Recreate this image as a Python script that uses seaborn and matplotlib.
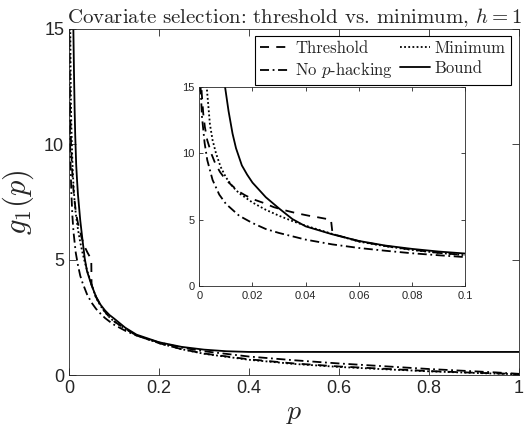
import matplotlib
matplotlib.use("Agg")
import matplotlib.pyplot as plt
import seaborn as sns
import numpy as np

# ---------------- data ----------------
p_threshold = [0.0007, 0.0009, 0.0015, 0.0021, 0.003, 0.0047, 0.006, 0.0078, 0.01,
               0.0122, 0.0147, 0.0172, 0.0202, 0.024, 0.028, 0.032, 0.0366, 0.041,
               0.0447, 0.0495, 0.0501, 0.06, 0.07, 0.08, 0.09, 0.1, 0.125, 0.15,
               0.2, 0.25, 0.3, 0.4, 0.5, 0.6, 0.7, 0.8, 0.9, 1.0]
g_threshold = [16.0, 14.6, 13.0, 12.0, 11.0, 9.9, 9.25, 8.6, 8.0,
               7.6, 7.15, 6.85, 6.55, 6.28, 5.95, 5.72, 5.49, 5.31,
               5.18, 5.0, 3.92, 3.38, 3.02, 2.74, 2.5, 2.33, 2.0, 1.72,
               1.38, 1.12, 0.93, 0.68, 0.5, 0.37, 0.27, 0.17, 0.1, 0.04]

p_minimum = [0.002, 0.0028, 0.004, 0.005, 0.0063, 0.008, 0.01, 0.0125, 0.015, 0.02,
             0.025, 0.03, 0.035, 0.04, 0.05, 0.06, 0.07, 0.08, 0.09, 0.1, 0.125,
             0.15, 0.2, 0.25, 0.3, 0.4, 0.5, 0.6, 0.7, 0.8, 0.9, 1.0]
g_minimum = [17.0, 15.0, 12.2, 11.0, 10.0, 9.0, 8.2, 7.5, 7.0, 6.3,
             5.75, 5.3, 4.9, 4.55, 3.93, 3.35, 3.0, 2.72, 2.5, 2.32, 2.0,
             1.72, 1.38, 1.12, 0.92, 0.66, 0.48, 0.35, 0.25, 0.16, 0.09, 0.03]

p_nohack = [0.0004, 0.0005, 0.001, 0.002, 0.003, 0.005, 0.0075, 0.01, 0.015, 0.02,
            0.025, 0.03, 0.04, 0.05, 0.06, 0.07, 0.08, 0.09, 0.1, 0.125, 0.15,
            0.2, 0.25, 0.3, 0.4, 0.5, 0.6, 0.7, 0.8, 0.9, 0.95, 1.0]
g_nohack = [16.5, 15.0, 12.8, 10.8, 9.5, 8.0, 6.9, 6.2, 5.3, 4.75,
            4.3, 4.0, 3.5, 3.14, 2.87, 2.66, 2.47, 2.32, 2.18, 1.92, 1.71,
            1.41, 1.19, 1.03, 0.8, 0.64, 0.5, 0.38, 0.26, 0.16, 0.11, 0.05]

p_bound = [0.0085, 0.0097, 0.011, 0.0125, 0.0138, 0.016, 0.018, 0.02, 0.025, 0.03,
           0.035, 0.04, 0.05, 0.06, 0.07, 0.08, 0.09, 0.1, 0.125, 0.15, 0.2, 0.25,
           0.3, 0.35, 0.4, 0.6, 0.8, 1.0]
g_bound = [17.5, 15.0, 13.2, 11.5, 10.4, 9.1, 8.4, 7.8, 6.7, 5.85,
           5.05, 4.5, 3.9, 3.4, 3.05, 2.8, 2.6, 2.45, 2.05, 1.75, 1.42, 1.22,
           1.1, 1.03, 1.0, 1.0, 1.0, 1.0]

labels = ["Threshold", "Minimum", "No $p$-hacking", "Bound"]
main_xticks = [0, 0.2, 0.4, 0.6, 0.8, 1.0]
main_xticklabels = ["0", "0.2", "0.4", "0.6", "0.8", "1"]
main_yticks = [0, 5, 10, 15]
main_yticklabels = ["0", "5", "10", "15"]
inset_xticks = [0, 0.02, 0.04, 0.06, 0.08, 0.1]
inset_xticklabels = ["0", "0.02", "0.04", "0.06", "0.08", "0.1"]
inset_yticks = [0, 5, 10, 15]
inset_yticklabels = ["0", "5", "10", "15"]

title = "Covariate selection: threshold vs. minimum, $h=1$"
xlabel = "$p$"
ylabel = "$g_1(p)$"

# ---------------- style ----------------
sns.set_style("white")
plt.rcParams["font.family"] = ["Liberation Sans", "DejaVu Sans"]
plt.rcParams["mathtext.fontset"] = "cm"
AX_COLOR = "#262626"

series = [
    (p_threshold, g_threshold, (0, (5, 4))),
    (p_minimum, g_minimum, (0, (1, 1.3))),
    (p_nohack, g_nohack, (0, (5, 2, 1, 2))),
    (p_bound, g_bound, "-"),
]

fig = plt.figure(figsize=(5.30, 4.36), dpi=100)
ax = fig.add_axes([0.1302, 0.1399, 0.8491, 0.7936])
ins = fig.add_axes([0.376, 0.344, 0.502, 0.456])


def draw(a, lw):
    handles = []
    for (x, y, ls), lab in zip(series, labels):
        sns.lineplot(x=x, y=y, ax=a, color="black", linewidth=lw, linestyle=ls,
                     estimator=None, sort=False, label=lab, legend=False)
        handles.append(a.get_lines()[-1])
    return handles


def style_axes(a, fs, ticklen):
    for s in a.spines.values():
        s.set_color(AX_COLOR)
        s.set_linewidth(0.6)
        s.set_visible(True)
    a.tick_params(direction="in", length=ticklen, width=0.6, colors=AX_COLOR,
                  labelsize=fs, top=True, right=True, left=True, bottom=True,
                  labelcolor=AX_COLOR)
    a.set_facecolor("white")


handles = draw(ax, 1.3)
ax.set_xlim(0, 1)
ax.set_ylim(0, 15)
ax.set_xticks(main_xticks)
ax.set_xticklabels(main_xticklabels)
ax.set_yticks(main_yticks)
ax.set_yticklabels(main_yticklabels)
style_axes(ax, 13, 5)
ax.set_xlabel(xlabel, fontsize=20, labelpad=2)
ax.set_ylabel(ylabel, fontsize=22, labelpad=6)
ax.set_title(title, fontsize=15, fontfamily="cmr10", pad=4)

order = [0, 2, 1, 3]
leg = ax.legend([handles[i] for i in order], [labels[i] for i in order],
                loc="upper right", bbox_to_anchor=(0.982, 0.980), borderaxespad=0,
                ncol=2, prop={"family": "cmr10", "size": 12}, frameon=True,
                fancybox=False, framealpha=1, edgecolor="black",
                handlelength=1.8, handletextpad=0.3, columnspacing=0.4,
                borderpad=0.3, labelspacing=0.25)
leg.get_frame().set_linewidth(0.8)

draw(ins, 1.3)
ins.set_xlim(0, 0.1)
ins.set_ylim(0, 15)
ins.set_xticks(inset_xticks)
ins.set_xticklabels(inset_xticklabels)
ins.set_yticks(inset_yticks)
ins.set_yticklabels(inset_yticklabels)
style_axes(ins, 8, 3)
ins.set_xlabel("")
ins.set_ylabel("")

fig.savefig("out.png", dpi=100)
